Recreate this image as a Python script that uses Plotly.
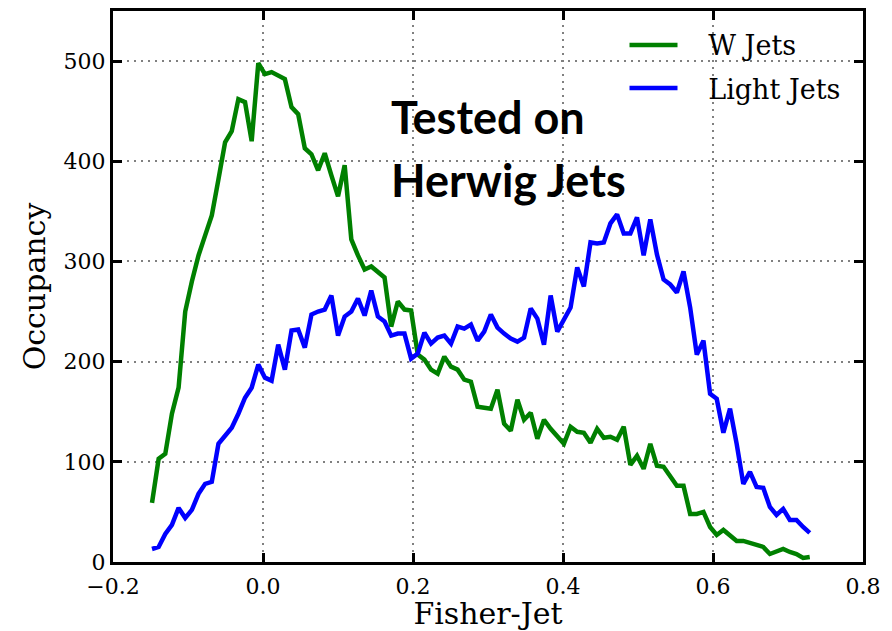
import numpy as np
import plotly.graph_objects as go

# Bin positions of the Fisher-Jet histogram (100 bins)
fisher_x = np.linspace(-0.148, 0.729, 100)

w_jets = [59, 103, 108, 148, 174, 250, 280, 306, 326, 346,
          382, 419, 430, 462, 459, 420, 498, 487, 489, 485,
          482, 454, 447, 413, 407, 391, 408, 386, 365, 396,
          322, 306, 292, 295, 289, 284, 235, 260, 252, 251,
          207, 202, 192, 188, 205, 195, 192, 182, 180, 155,
          154, 153, 172, 138, 131, 162, 142, 149, 123, 142,
          133, 125, 118, 135, 130, 129, 119, 133, 124, 125,
          122, 135, 97, 106, 93, 118, 96, 95, 86, 76,
          76, 48, 48, 50, 35, 27, 32, 27, 21, 21,
          19, 17, 15, 8, 11, 13, 10, 8, 4, 5]

light_jets = [13, 15, 28, 37, 54, 44, 52, 68, 78, 80,
              118, 126, 134, 148, 164, 174, 197, 184, 181, 217,
              192, 231, 232, 214, 247, 250, 252, 266, 226, 245,
              250, 263, 246, 271, 245, 240, 226, 228, 228, 203,
              208, 229, 218, 224, 226, 218, 235, 233, 237, 221,
              230, 247, 234, 228, 223, 220, 224, 253, 243, 217,
              266, 230, 242, 254, 294, 275, 319, 318, 319, 338,
              347, 328, 328, 344, 306, 342, 307, 282, 277, 269,
              290, 254, 207, 221, 168, 163, 129, 153, 118, 78,
              90, 75, 74, 55, 47, 53, 42, 42, 35, 29]

x_ticks = [-0.2, 0.0, 0.2, 0.4, 0.6, 0.8]
y_ticks = [0, 100, 200, 300, 400, 500]

serif = "DejaVu Serif"
pad = "\u00a0\u00a0\u00a0"

fig = go.Figure()
fig.add_trace(go.Scatter(x=fisher_x, y=w_jets, mode="lines", name=pad + "W Jets",
                         legendgroup="w", line=dict(color="#008000", width=4.5)))
fig.add_trace(go.Scatter(x=fisher_x, y=light_jets, mode="lines", name=pad + "Light Jets",
                         legendgroup="l", line=dict(color="#0000ff", width=4.5)))

axis_common = dict(
    showline=True, linecolor="black", linewidth=3, mirror="ticks",
    ticks="inside", ticklen=9, tickwidth=3, tickcolor="black",
    showgrid=True, gridcolor="#808080", gridwidth=2, griddash="2px,5px",
    zeroline=False, tickfont=dict(family=serif, size=22, color="black"),
)

fig.update_xaxes(range=[-0.2, 0.8], tickvals=x_ticks, tickformat=".1f",
                 ticklabelstandoff=3,
                 title=dict(text="Fisher-Jet", font=dict(family=serif, size=30, color="black"), standoff=2),
                 **axis_common)
fig.update_yaxes(range=[0, 550], tickvals=y_ticks,
                 title=dict(text="Occupancy", font=dict(family=serif, size=30, color="black"), standoff=10),
                 **axis_common)

fig.add_annotation(x=0.168, y=444, xref="x", yref="y", text="<b>Tested on</b>",
                   showarrow=False, xanchor="left", yanchor="middle",
                   font=dict(family="Lato", size=45, color="black"))
fig.add_annotation(x=0.168, y=381, xref="x", yref="y", text="<b>Herwig Jets</b>",
                   showarrow=False, xanchor="left", yanchor="middle",
                   font=dict(family="Lato", size=45, color="black"))

fig.update_layout(
    width=892, height=631,
    margin=dict(l=113, r=29, t=8, b=69),
    paper_bgcolor="white", plot_bgcolor="white",
    legend=dict(x=0.682, y=0.982, xanchor="left", yanchor="top",
                bgcolor="rgba(0,0,0,0)", borderwidth=0,
                font=dict(family=serif, size=27, color="black"),
                itemwidth=48, tracegroupgap=5, traceorder="grouped"),
    showlegend=True,
)

fig.write_html("out.html")
